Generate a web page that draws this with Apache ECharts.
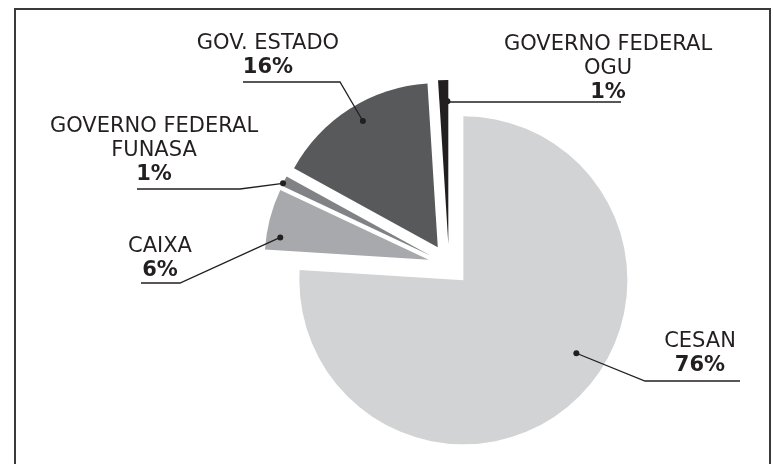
<!DOCTYPE html>
<html>
<head>
<meta charset="utf-8">
<script src="https://cdn.jsdelivr.net/npm/echarts@6/dist/echarts.min.js"></script>
<style>
  html, body { margin: 0; padding: 0; background: #fff; }
  #wrap { position: relative; width: 773px; height: 464px; overflow: hidden; }
  #frame { position: absolute; left: 14px; top: 8px; width: 757px; height: 480px;
           border: 2px solid #3a3a3a; box-sizing: border-box; }
  #chart { position: absolute; left: 0; top: 0; width: 773px; height: 464px; }
</style>
</head>
<body>
<div id="wrap">
  <div id="frame"></div>
  <div id="chart"></div>
</div>
<script>
  // dados
  var categories = ['CESAN', 'CAIXA', 'GOVERNO FEDERAL\nFUNASA', 'GOV. ESTADO', 'GOVERNO FEDERAL\nOGU'];
  var shares = [76, 6, 1, 16, 1];

  // estilo
  var sliceColors = ['#d1d3d4', '#a7a9ac', '#808285', '#58595b', '#231f20'];
  var textColor = '#231f20';

  // layout do grafico
  var cx = 449, cy = 265, R = 164, OFF = 21;
  // rotulos: [texto x, base do texto, cotovelo x, linha y, fim x]
  var labelPos = [
    [700, 378, 645, 381, 740],
    [160, 283, 180, 283, 141],
    [154, 187, 240, 189, 137],
    [268, 80, 340, 82, 243],
    [608, 105, null, 102, 621]
  ];
  // ponto de ancoragem dentro da fatia: fracao do angulo, fracao do raio
  var anchorT = [0.449, 0.23, 0.25, 0.53, 0.9];
  var anchorR = [0.82, 0.915, 1.0, 0.895, 0.87];

  var total = shares.reduce(function (a, b) { return a + b }, 0);
  var anchors = [];
  var acc = 0;
  shares.forEach(function (v, i) {
    var start = acc / total * 360;
    var span = v / total * 360;
    acc += v;
    var mid = (start + span / 2) * Math.PI / 180;
    var vx = cx + OFF * Math.sin(mid);
    var vy = cy - OFF * Math.cos(mid);
    var a = (start + anchorT[i] * span) * Math.PI / 180;
    anchors.push([vx + anchorR[i] * R * Math.sin(a), vy - anchorR[i] * R * Math.cos(a)]);
  });

  var chart = echarts.init(document.getElementById('chart'));
  var option = {
    animation: false,
    graphic: anchors.map(function (p) {
      return {
        type: 'circle',
        shape: { cx: p[0], cy: p[1], r: 3 },
        style: { fill: textColor },
        z: 100,
        silent: true
      };
    }),
    series: [{
      // fatias destacadas
      type: 'pie',
      center: [cx, cy],
      radius: [0, R],
      startAngle: 90,
      clockwise: true,
      selectedMode: 'multiple',
      selectedOffset: OFF,
      itemStyle: { borderWidth: 0 },
      emphasis: { disabled: true },
      label: { show: false },
      labelLine: { show: false },
      data: categories.map(function (name, i) {
        return { name: name, value: shares[i], selected: true, itemStyle: { color: sliceColors[i] } };
      })
    }, {
      // so rotulos e linhas
      type: 'pie',
      silent: true,
      center: [cx, cy],
      radius: [0, R],
      startAngle: 90,
      clockwise: true,
      selectedMode: false,
      avoidLabelOverlap: false,
      z: 5,
      itemStyle: { color: 'rgba(0,0,0,0)', borderWidth: 0 },
      emphasis: { disabled: true },
      label: {
        show: true,
        position: 'outside',
        formatter: function (p) {
          var lines = p.name.split('\n').map(function (l) { return '{n|' + l + '}' });
          return lines.join('\n') + '\n{p|' + p.value + '%}';
        },
        rich: {
          n: { fontFamily: 'DejaVu Sans', fontSize: 21, lineHeight: 24, color: textColor },
          p: { fontFamily: 'DejaVu Sans', fontSize: 21, fontWeight: 'bold', lineHeight: 24, color: textColor }
        }
      },
      labelLine: {
        show: true,
        lineStyle: { color: textColor, width: 1.3 }
      },
      labelLayout: function (params) {
        var i = params.dataIndex;
        var lp = labelPos[i];
        var a = anchors[i];
        var elbowX = lp[2] == null ? a[0] : lp[2];
        return {
          x: lp[0],
          y: lp[1],
          align: 'center',
          verticalAlign: 'bottom',
          labelLinePoints: [[a[0], a[1]], [elbowX, lp[3]], [lp[4], lp[3]]]
        };
      },
      data: categories.map(function (name, i) {
        return { name: name, value: shares[i] };
      })
    }]
  };
  chart.setOption(option);
</script>
</body>
</html>
